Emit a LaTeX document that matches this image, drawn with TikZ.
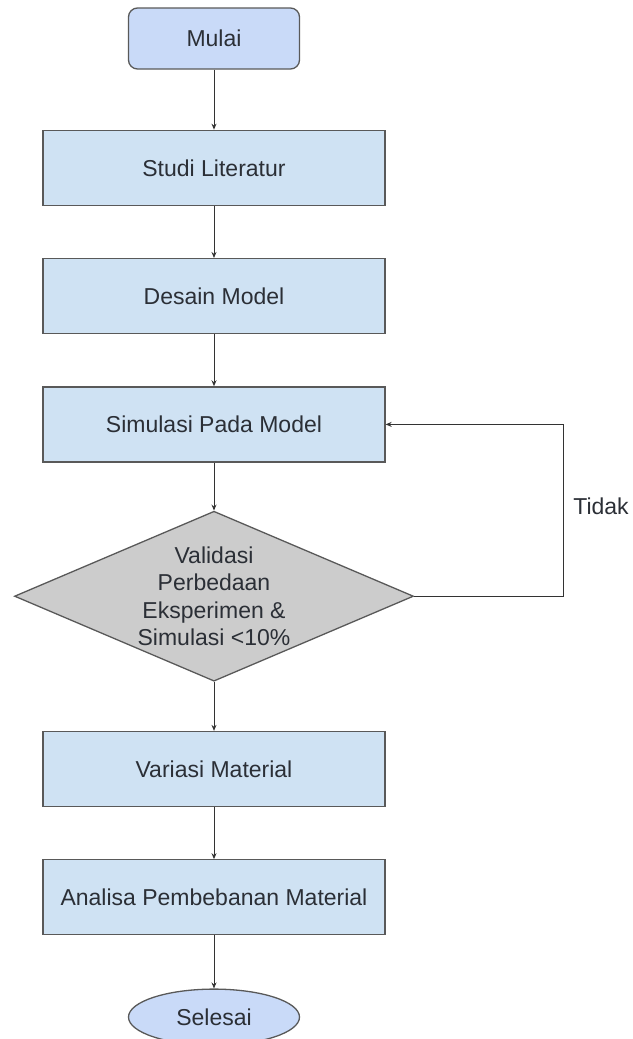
\documentclass[tikz,border=0pt]{standalone}
\usepackage{fontspec}
\setmainfont{Liberation Sans}
\usetikzlibrary{positioning, shapes.geometric, arrows.meta}
\definecolor{kotak}{HTML}{CFE2F3}
\definecolor{ujung}{HTML}{C9DAF8}
\definecolor{abu}{HTML}{CCCCCC}
\definecolor{garis}{HTML}{595959}
\definecolor{tulisan}{HTML}{2B2F36}
\tikzset{
	every node/.append style={
		font=\fontsize{23}{27.5}\selectfont,
		text=tulisan,
	},
	proses/.append style={
		draw=garis,
		fill=kotak,
		line width=1.3pt,
		minimum width=342pt,
		minimum height=75pt,
	},
	terminal/.append style={
		draw=garis,
		fill=ujung,
		line width=1.3pt,
		rounded corners=9pt,
		minimum width=171pt,
		minimum height=61pt,
	},
	akhir/.append style={
		ellipse,
		draw=garis,
		fill=ujung,
		line width=1.3pt,
		inner sep=0pt,
		minimum width=171pt,
		minimum height=56pt,
	},
	keputusan/.append style={
		diamond,
		draw=garis,
		fill=abu,
		line width=1.3pt,
		inner sep=0pt,
		minimum width=399pt,
		minimum height=170pt,
	},
	panah/.append style={
		-{Stealth[length=6pt,width=5pt]},
		draw=black!80,
		line width=1pt,
	}
}

\begin{document}
\begin{tikzpicture}[x=1pt, y=-1pt, node distance=52pt]
\useasboundingbox (0,0) rectangle (632,1039);

\node(mulai)[terminal] at (214,38.5) {Mulai};

\node(studi)[proses, below = 60pt of mulai]{Studi Literatur};
\draw[panah] (mulai) -- (studi);

\node(desain)[proses, below = of studi]{Desain Model};
\draw[panah] (studi) -- (desain);

\node(simulasi)[proses, below = of desain]{Simulasi Pada Model};
\draw[panah] (desain) -- (simulasi);

\node(valid)[keputusan, below = 48pt of simulasi,
	label={[align=center]center:Validasi\\Perbedaan\\Eksperimen \&\\Simulasi <10\%}]{};
\draw[panah] (simulasi) -- (valid);

% kembali ke simulasi
\draw[panah] (valid.east) -- ++(149,0) |- (simulasi.east);
\node(tidak) at (601,506) {Tidak};

\node(variasi)[proses, below = 49pt of valid]{Variasi Material};
\draw[panah] (valid) -- (variasi);

\node(analisa)[proses, below = of variasi]{Analisa Pembebanan Material};
\draw[panah] (variasi) -- (analisa);

\node(selesai)[akhir, below = 53pt of analisa]{Selesai};
\draw[panah] (analisa) -- (selesai);

\end{tikzpicture}
\end{document}
